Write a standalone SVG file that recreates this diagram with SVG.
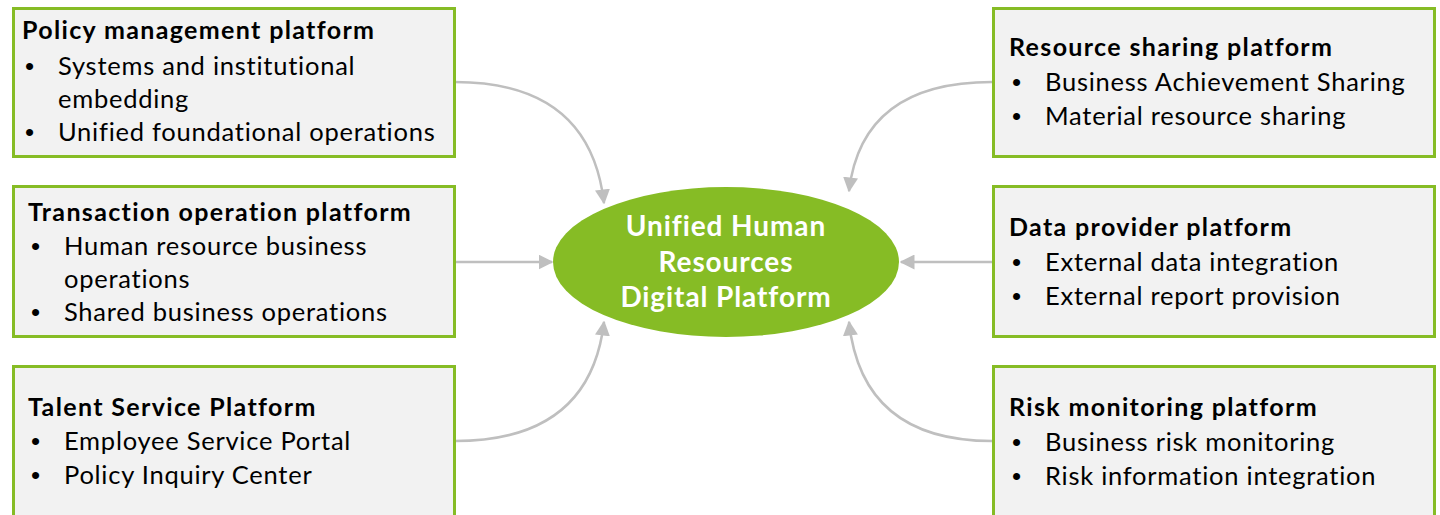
<svg xmlns="http://www.w3.org/2000/svg" width="1440" height="515" viewBox="0 0 1440 515">
<style>
.box{fill:#F2F2F2;stroke:#86BC25;stroke-width:3}
.t{font-family:Lato,"Open Sans",sans-serif;font-size:25.5px;letter-spacing:0.75px;fill:#000}
.b{font-weight:bold;font-size:25px;letter-spacing:1.35px}
.u{font-family:"Liberation Sans",sans-serif;font-size:26px;fill:#000}
.c{font-family:Lato,"Open Sans",sans-serif;font-size:28px;letter-spacing:0.9px;font-weight:bold;fill:#fff;text-anchor:middle}
.con{fill:none;stroke:#BFBFBF;stroke-width:2.5;marker-end:url(#ah)}
</style>
<defs>
<marker id="ah" viewBox="0 0 10 10" refX="9" refY="5" markerWidth="6" markerHeight="6" orient="auto" markerUnits="strokeWidth">
<path d="M0,0 L10,5 L0,10 Z" fill="#BFBFBF"/>
</marker>
</defs>
<g id="connectors">
<path class="con" d="M455,82 Q590,82 604,203"/>
<path class="con" d="M455,262 L552,262"/>
<path class="con" d="M455,441 Q590,441 604,322"/>
<path class="con" d="M992,82 Q862,82 849,191"/>
<path class="con" d="M992,262 L901,262"/>
<path class="con" d="M992,441 Q862,441 849,322"/>
</g>
<g id="center">
<ellipse cx="726" cy="262" rx="173" ry="75" fill="#86BC25"/>
<text class="c" x="726" y="236">Unified Human</text>
<text class="c" x="726" y="272">Resources</text>
<text class="c" x="726" y="307">Digital Platform</text>
</g>
<g id="policy">
<rect class="box" x="13.5" y="8.5" width="441" height="148"/>
<text class="t b" x="22" y="39">Policy management platform</text>
<text class="u" x="25" y="75">•</text><text class="t" x="58" y="75">Systems and institutional</text>
<text class="t" x="58" y="108">embedding</text>
<text class="u" x="25" y="141">•</text><text class="t" x="58" y="141">Unified foundational operations</text>
</g>
<g id="transaction">
<rect class="box" x="13.5" y="186.5" width="441" height="150"/>
<text class="t b" x="28" y="221">Transaction operation platform</text>
<text class="u" x="31" y="255">•</text><text class="t" x="64" y="255">Human resource business</text>
<text class="t" x="64" y="288">operations</text>
<text class="u" x="31" y="321">•</text><text class="t" x="64" y="321">Shared business operations</text>
</g>
<g id="talent">
<rect class="box" x="13.5" y="366.5" width="441" height="160"/>
<text class="t b" x="28" y="416">Talent Service Platform</text>
<text class="u" x="31" y="450">•</text><text class="t" x="64" y="450">Employee Service Portal</text>
<text class="u" x="31" y="484">•</text><text class="t" x="64" y="484">Policy Inquiry Center</text>
</g>
<g id="resource">
<rect class="box" x="993.5" y="8.5" width="441" height="148"/>
<text class="t b" x="1009" y="56">Resource sharing platform</text>
<text class="u" x="1012" y="91">•</text><text class="t" x="1045" y="91">Business Achievement Sharing</text>
<text class="u" x="1012" y="125">•</text><text class="t" x="1045" y="125">Material resource sharing</text>
</g>
<g id="data">
<rect class="box" x="993.5" y="186.5" width="441" height="150"/>
<text class="t b" x="1009" y="236">Data provider platform</text>
<text class="u" x="1012" y="271">•</text><text class="t" x="1045" y="271">External data  integration</text>
<text class="u" x="1012" y="305">•</text><text class="t" x="1045" y="305">External report provision</text>
</g>
<g id="risk">
<rect class="box" x="993.5" y="366.5" width="441" height="160"/>
<text class="t b" x="1009" y="416">Risk monitoring platform</text>
<text class="u" x="1012" y="451">•</text><text class="t" x="1045" y="451">Business risk monitoring</text>
<text class="u" x="1012" y="485">•</text><text class="t" x="1045" y="485">Risk information integration</text>
</g>
</svg>
